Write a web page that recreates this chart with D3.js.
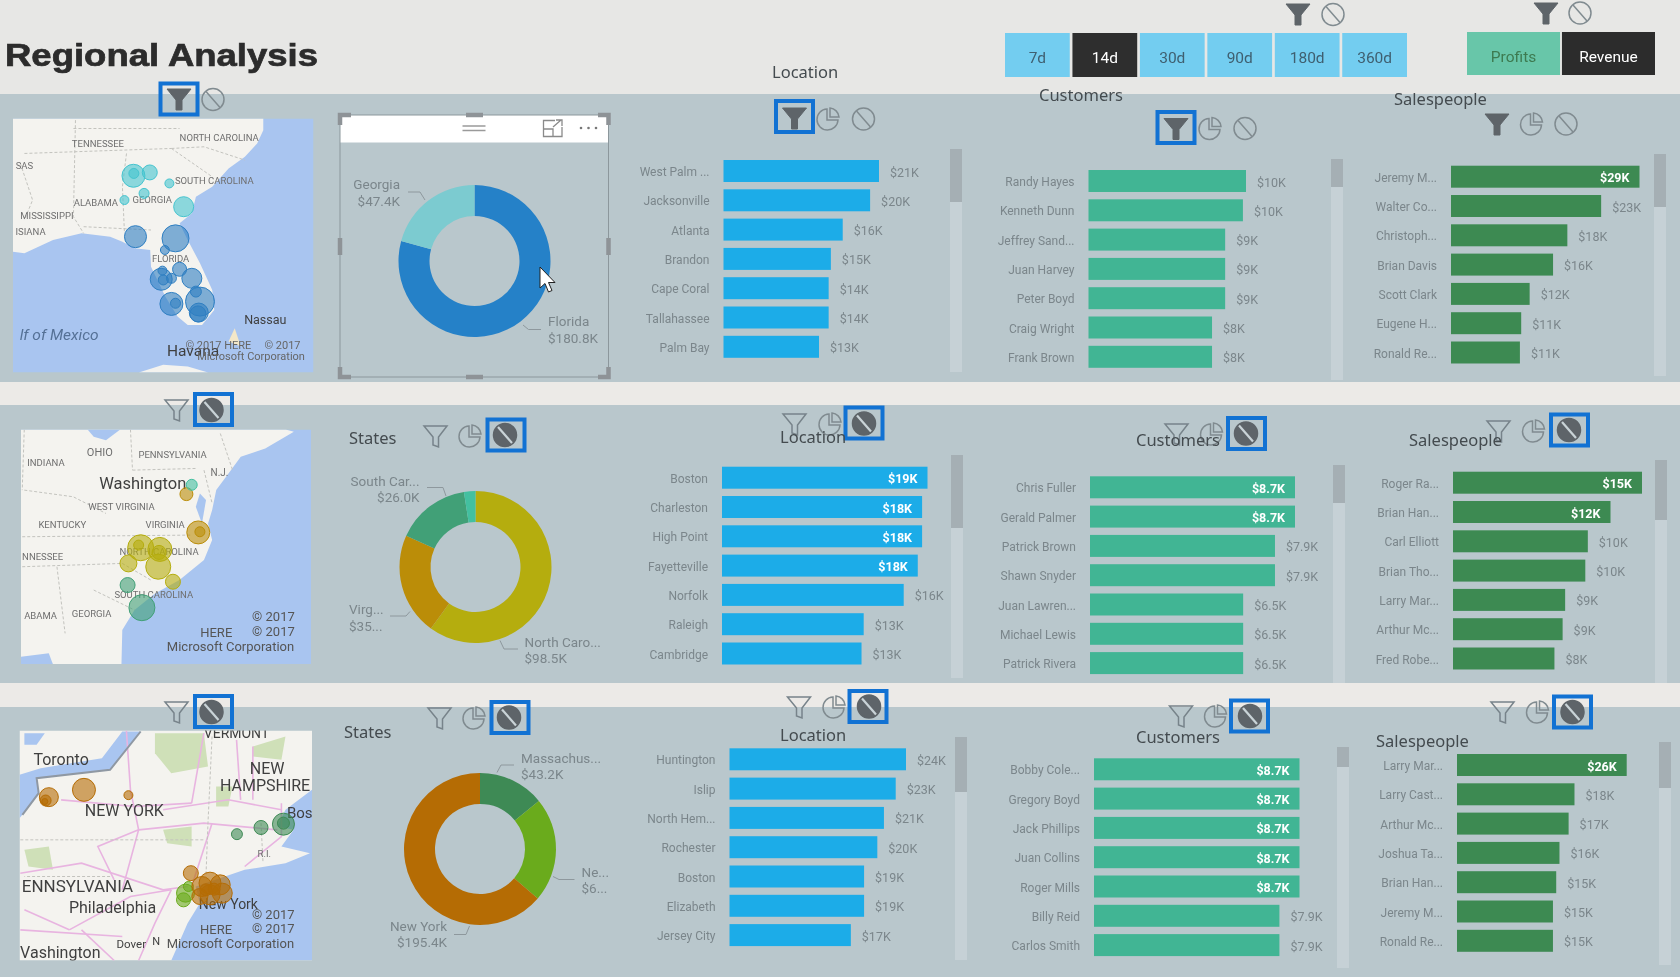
<!DOCTYPE html>
<html>
<head>
<meta charset="utf-8">
<script src="https://cdn.jsdelivr.net/npm/d3@7"></script>
<style>
html, body { margin: 0; padding: 0; background: #e7e7e5; overflow: hidden; }
svg { display: block; filter: blur(0.55px); }
text { font-family: Roboto, sans-serif; }
</style>
</head>
<body>
<div id="chart"></div>
<script>
// ---- data ----
var periods = ['7d','14d','30d','90d','180d','360d'];
var measures = ['Profits','Revenue'];

var locNames1 = ['West Palm ...','Jacksonville','Atlanta','Brandon','Cape Coral','Tallahassee','Palm Bay'];
var locVals1 = [21,19.8,16.1,14.5,14.2,14.2,12.9];
var locLabels1 = ['$21K','$20K','$16K','$15K','$14K','$14K','$13K'];
var custNames1 = ['Randy Hayes','Kenneth Dunn','Jeffrey Sand...','Juan Harvey','Peter Boyd','Craig Wright','Frank Brown'];
var custVals1 = [10.2,10,8.85,8.85,8.85,8,8];
var custLabels1 = ['$10K','$10K','$9K','$9K','$9K','$8K','$8K'];
var salesNames1 = ['Jeremy M...','Walter Co...','Christoph...','Brian Davis','Scott Clark','Eugene H...','Ronald Re...'];
var salesVals1 = [29,23.1,17.9,15.7,12.1,10.8,10.6];
var salesLabels1 = ['$29K','$23K','$18K','$16K','$12K','$11K','$11K'];

var locNames2 = ['Boston','Charleston','High Point','Fayetteville','Norfolk','Raleigh','Cambridge'];
var locVals2 = [19,18.5,18.5,18.1,16.8,13.1,12.9];
var locLabels2 = ['$19K','$18K','$18K','$18K','$16K','$13K','$13K'];
var custNames2 = ['Chris Fuller','Gerald Palmer','Patrick Brown','Shawn Snyder','Juan Lawren...','Michael Lewis','Patrick Rivera'];
var custVals2 = [8.7,8.7,7.85,7.85,6.5,6.5,6.5];
var custLabels2 = ['$8.7K','$8.7K','$7.9K','$7.9K','$6.5K','$6.5K','$6.5K'];
var salesNames2 = ['Roger Ra...','Brian Han...','Carl Elliott','Brian Tho...','Larry Mar...','Arthur Mc...','Fred Robe...'];
var salesVals2 = [15,12.5,10.7,10.5,8.9,8.7,8.05];
var salesLabels2 = ['$15K','$12K','$10K','$10K','$9K','$9K','$8K'];

var locNames3 = ['Huntington','Islip','North Hem...','Rochester','Boston','Elizabeth','Jersey City'];
var locVals3 = [24,22.6,21,20.1,18.3,18.3,16.5];
var locLabels3 = ['$24K','$23K','$21K','$20K','$19K','$19K','$17K'];
var custNames3 = ['Bobby Cole...','Gregory Boyd','Jack Phillips','Juan Collins','Roger Mills','Billy Reid','Carlos Smith'];
var custVals3 = [8.7,8.7,8.7,8.7,8.7,7.85,7.85];
var custLabels3 = ['$8.7K','$8.7K','$8.7K','$8.7K','$8.7K','$7.9K','$7.9K'];
var salesNames3 = ['Larry Mar...','Larry Cast...','Arthur Mc...','Joshua Ta...','Brian Han...','Jeremy M...','Ronald Re...'];
var salesVals3 = [26,18,17.1,15.7,15.2,14.7,14.7];
var salesLabels3 = ['$26K','$18K','$17K','$16K','$15K','$15K','$15K'];

var stateVals1 = [180.8,47.4];
var stateVals2 = [98.5,35.7,26,4];
var stateVals3 = [43.2,68,195.4];
var stateColors1 = ['#2581c8','#7ccbd0'];
var stateColors2 = ['#b5ad0e','#bb8d08','#41a077','#43c0a0'];
var stateColors3 = ['#3e8a55','#6aab1c','#b56c04'];

// map bubbles: position in map units, size in area units, index of state colour
var bubX1 = [327,328,367,415,353,305,450,332,430,404,398,440,395,420,400,470,480,490,420,430,487,485];
var bubY1 = [527,520,517,550,580,600,620,710,715,750,812,808,838,835,840,835,875,905,912,910,938,942];
var bubS1 = [132,25,56,20,25,20,100,121,182,20,20,49,121,25,25,100,30,210,132,25,90,64];
var bubC1 = [1,1,1,1,1,1,1,0,0,0,0,0,0,0,0,0,0,0,0,0,0,0];
var bubX2 = [345,392,390,340,315,388,424,486,490,457,313,348,470];
var bubY2 = [473,478,487,465,520,530,575,427,425,312,585,653,284];
var bubS2 = [169,144,49,25,72,156,56,132,25,42,56,169,30];
var bubC2 = [0,0,0,0,0,0,0,1,1,1,2,2,3];
var bubX3 = [455,450,462,120,112,110,206,315,468,495,515,540,545,515,490,525,505,695,695,640,581];
var bubY3 = [610,630,590,322,332,335,300,316,550,590,580,585,610,615,620,598,600,403,400,413,433];
var bubS3 = [81,49,25,90,30,9,132,20,56,100,121,100,100,100,64,36,36,121,36,49,30];
var bubC3 = [1,1,1,2,2,2,2,2,2,2,2,2,2,2,2,2,2,0,0,0,0];

// ---- page ----
var width = 1680, height = 977;
var panelColor = '#b9c7cc', ink = '#7b868b', iconInk = '#5e6469', blue = '#1272d3', trackColor = '#c6d1d6', thumbColor = '#a5afb4';

var svg = d3.select('#chart').append('svg').attr('width',width).attr('height',height);
svg.append('rect').attr('width',width).attr('height',height).attr('fill','#e7e7e5');

[[94,382],[405,683],[707,977]].forEach(function(p){
    svg.append('rect').attr('x',0).attr('y',p[0]).attr('width',width).attr('height',p[1]-p[0]).attr('fill',panelColor);
});
svg.append('rect').attr('x',0).attr('y',382).attr('width',width).attr('height',23).attr('fill','#eceae7');
svg.append('rect').attr('x',0).attr('y',683).attr('width',width).attr('height',24).attr('fill','#eceae7');

svg.append('text').attr('x',5).attr('y',66).text('Regional Analysis')
    .attr('textLength',313).attr('lengthAdjust','spacingAndGlyphs')
    .style('font-family','Liberation Sans').style('font-weight',700).style('font-size','32px')
    .attr('fill','#2c2c2c').attr('stroke','#2c2c2c').attr('stroke-width',0.7);

// ---- slicers ----
var periodX = d3.scaleBand().domain(periods).range([1005,1407]).paddingInner(0.04);
svg.selectAll('.period').data(periods).enter().append('rect')
    .attr('x',d=>periodX(d)).attr('y',33).attr('width',periodX.bandwidth()).attr('height',44)
    .attr('fill',d=>d=='14d' ? '#2e2e2e' : '#73cdf0');
svg.selectAll('.periodText').data(periods).enter().append('text')
    .attr('x',d=>periodX(d)+periodX.bandwidth()/2).attr('y',62.5).attr('text-anchor','middle')
    .style('font-size','15.5px').attr('fill',d=>d=='14d' ? '#fff' : '#3f5f70').text(d=>d);

var measureX = d3.scaleBand().domain(measures).range([1467,1655]).paddingInner(0.02);
svg.selectAll('.measure').data(measures).enter().append('rect')
    .attr('x',d=>measureX(d)).attr('y',32).attr('width',measureX.bandwidth()).attr('height',43)
    .attr('fill',d=>d=='Revenue' ? '#2c2c2c' : '#68c6a9');
svg.selectAll('.measureText').data(measures).enter().append('text')
    .attr('x',d=>measureX(d)+measureX.bandwidth()/2).attr('y',61.5).attr('text-anchor','middle')
    .style('font-size','15.5px').attr('fill',d=>d=='Revenue' ? '#fff' : '#3d7a50').text(d=>d);

// ---- little visual header icons ----
function funnel(x,y,filled){
    svg.append('path')
        .attr('transform',`translate(${x},${y})`)
        .attr('d', filled ? 'M-12,-10H12L3,1V11H-3V1Z' : 'M-11.5,-10H11.5L3,1V11L-2.5,9V1Z')
        .attr('fill',filled ? iconInk : 'none').attr('stroke',filled ? iconInk : '#77838a').attr('stroke-width',filled ? 1 : 1.5);
}
function pie(x,y){
    var g = svg.append('g').attr('transform',`translate(${x},${y})`).attr('fill','none').attr('stroke','#808b90').attr('stroke-width',1.5);
    g.append('path').attr('d','M-1,-10A10.5,10.5 0 1 0 10,1H-1Z');
    g.append('path').attr('d','M2,-11A10,10 0 0 1 11,-2H2Z');
}
function none(x,y,filled){
    var g = svg.append('g').attr('transform',`translate(${x},${y})`);
    g.append('circle').attr('r',filled ? 11.5 : 11)
        .attr('fill',filled ? iconInk : 'none').attr('stroke',filled ? iconInk : '#808b90').attr('stroke-width',1.5);
    g.append('line').attr('x1',-7).attr('y1',-8).attr('x2',7).attr('y2',8)
        .attr('stroke',filled ? '#c9d3d7' : '#808b90').attr('stroke-width',filled ? 2.2 : 1.5);
}
function box(x,y){
    svg.append('rect').attr('x',x-18.5).attr('y',y-15.5).attr('width',37).attr('height',31)
        .attr('fill','none').attr('stroke',blue).attr('stroke-width',4);
}
function title(x,y,t){
    svg.append('text').attr('x',x).attr('y',y).text(t)
        .style('font-family','Noto Sans').style('font-size','16.5px').attr('fill','#444b4f');
}

funnel(1298,14,true); none(1333,14.5,false);
funnel(1546,13,true); none(1580,13,false);

// row one
box(179,99); funnel(179,99,true); none(213,99.5,false);
box(794.5,116.5); funnel(794.5,118,true); pie(828,119); none(863.5,119,false);
box(1176,127.5); funnel(1176,128.5,true); pie(1210,128.5); none(1245,128.5,false);
funnel(1497,124,true); pie(1531.5,124); none(1566,124,false);
title(772,78,'Location'); title(1039,101,'Customers'); title(1394,105,'Salespeople');

// row two
funnel(176.5,410,false); none(211.5,410,true); box(213.5,409.5);
funnel(435.5,436,false); pie(470,436); none(505,435,true); box(506,435);
funnel(794.5,424,false); pie(830,424); none(864,423.5,true); box(864,423);
funnel(1176.5,434,false); pie(1211.5,434); none(1246,433.5,true); box(1246.5,433.5);
funnel(1498.5,431,false); pie(1533.5,431); none(1569,430,true); box(1569.5,430);
title(349,444,'States'); title(780,443,'Location'); title(1136,446,'Customers'); title(1409,446,'Salespeople');

// row three
funnel(176.5,712,false); none(211.5,712,true); box(213.5,711.5);
funnel(439.5,718,false); pie(474,718); none(509,717.5,true); box(510,717.5);
funnel(799,707,false); pie(834,707); none(869,706.5,true); box(868,706.5);
funnel(1181,716,false); pie(1215.5,716); none(1250,716,true); box(1249.5,716);
funnel(1502.5,712,false); pie(1537.5,712); none(1572.5,712,true); box(1572.5,712);
title(344,738,'States'); title(780,741,'Location'); title(1136,743,'Customers'); title(1376,747,'Salespeople');

// ---- bar panels ----
function barPanel(o){
    var rowStep = 29.3;
    var x = d3.scaleLinear().domain([0,d3.max(o.vals)]).range([0,o.maxW]);
    var top = o.first-rowStep/2;
    var y = d3.scaleBand().domain(o.names).range([top,top+rowStep*o.names.length]).paddingInner(0.25).paddingOuter(0.125);
    var g = svg.append('g').attr('transform',`translate(${o.x0},0)`);

    g.append('g').call(d3.axisLeft(y).tickSize(0).tickPadding(14))
        .call(a=>a.select('.domain').remove())
        .selectAll('text').attr('dy','.42em').style('font-family','Roboto').style('font-size','12px').attr('fill',ink);

    g.selectAll('.bar').data(o.vals).enter().append('rect')
        .attr('x',0).attr('y',(d,i)=>y(o.names[i]))
        .attr('width',d=>x(d)).attr('height',y.bandwidth()).attr('fill',o.color);

    g.selectAll('.val').data(o.vals).enter().append('text')
        .attr('x',(d,i)=>i<o.inside ? x(d)-10 : x(d)+11)
        .attr('y',(d,i)=>y(o.names[i])+y.bandwidth()/2+5.5)
        .attr('text-anchor',(d,i)=>i<o.inside ? 'end' : 'start')
        .style('font-size','12.5px').style('font-weight',(d,i)=>i<o.inside ? 700 : 400)
        .attr('fill',(d,i)=>i<o.inside ? '#fff' : ink)
        .text((d,i)=>o.labels[i]);

    svg.append('rect').attr('x',o.sx).attr('y',o.s0).attr('width',12).attr('height',o.s1-o.s0).attr('fill',trackColor);
    svg.append('rect').attr('x',o.sx).attr('y',o.s0).attr('width',12).attr('height',o.thumb-o.s0).attr('fill',thumbColor);
}

var locBlue = '#1cace8', custGreen = '#41b594', salesGreen = '#3d8a52';
barPanel({names:locNames1,vals:locVals1,labels:locLabels1,inside:0,color:locBlue,x0:723.5,first:171,maxW:155.5,sx:950,s0:149,s1:372,thumb:202});
barPanel({names:custNames1,vals:custVals1,labels:custLabels1,inside:0,color:custGreen,x0:1088.5,first:181,maxW:157.5,sx:1331,s0:159,s1:380,thumb:187});
barPanel({names:salesNames1,vals:salesVals1,labels:salesLabels1,inside:1,color:salesGreen,x0:1451,first:176.7,maxW:188.5,sx:1654,s0:154,s1:376,thumb:207});
barPanel({names:locNames2,vals:locVals2,labels:locLabels2,inside:4,color:locBlue,x0:722,first:477.7,maxW:205.5,sx:951,s0:455,s1:678,thumb:528});
barPanel({names:custNames2,vals:custVals2,labels:custLabels2,inside:2,color:custGreen,x0:1090,first:487.3,maxW:205,sx:1333,s0:465,s1:683,thumb:503});
barPanel({names:salesNames2,vals:salesVals2,labels:salesLabels2,inside:2,color:salesGreen,x0:1453,first:482.7,maxW:189,sx:1655,s0:460,s1:683,thumb:520});
barPanel({names:locNames3,vals:locVals3,labels:locLabels3,inside:0,color:locBlue,x0:729.5,first:759.3,maxW:176.5,sx:955,s0:737,s1:960,thumb:792});
barPanel({names:custNames3,vals:custVals3,labels:custLabels3,inside:5,color:custGreen,x0:1094,first:769.3,maxW:205.5,sx:1337,s0:747,s1:968,thumb:767});
barPanel({names:salesNames3,vals:salesVals3,labels:salesLabels3,inside:1,color:salesGreen,x0:1457,first:765,maxW:169.7,sx:1659,s0:742,s1:965,thumb:788});

// ---- donuts ----
function donut(o){
    var g = svg.append('g').attr('transform',`translate(${o.cx},${o.cy})`);
    var arc = d3.arc().innerRadius(45).outerRadius(76);
    g.selectAll('path').data(d3.pie().sort(null)(o.vals)).enter().append('path')
        .attr('d',arc).attr('fill',(d,i)=>o.colors[i]);
    o.notes.forEach(function(n){
        svg.append('text').attr('x',n.x).attr('y',n.y).attr('text-anchor',n.a).style('font-size','13.5px').attr('fill',ink).text(n.t1);
        svg.append('text').attr('x',n.x).attr('y',n.y+16.5).attr('text-anchor',n.a).style('font-size','13.5px').attr('fill',ink).text(n.t2);
        svg.append('path').attr('d',d3.line()(n.lead)).attr('fill','none').attr('stroke','#8e989d').attr('stroke-width',1);
    });
}
donut({cx:474.5,cy:261,vals:stateVals1,colors:stateColors1,notes:[
    {x:400,y:189,a:'end',t1:'Georgia',t2:'$47.4K',lead:[[408,192],[420,192],[425,200]]},
    {x:548,y:326,a:'start',t1:'Florida',t2:'$180.8K',lead:[[523,325],[528.5,329.5],[541,329.5]]}]});
donut({cx:475.5,cy:567,vals:stateVals2,colors:stateColors2,notes:[
    {x:419.5,y:485.5,a:'end',t1:'South Car...',t2:'$26.0K',lead:[[427,487.5],[443,487.5],[446,496]]},
    {x:349,y:614,a:'start',t1:'Virg...',t2:'$35...',lead:[[390,616],[406,616],[410,611.5]]},
    {x:524.5,y:646.5,a:'start',t1:'North Caro...',t2:'$98.5K',lead:[[500,640.5],[504,649],[518,649]]}]});
donut({cx:480,cy:849,vals:stateVals3,colors:stateColors3,notes:[
    {x:521,y:762.5,a:'start',t1:'Massachus...',t2:'$43.2K',lead:[[514,765],[501,765],[497,772.5]]},
    {x:581.5,y:876.5,a:'start',t1:'Ne...',t2:'$6...',lead:[[574.5,879.5],[559,879.5],[553,876.5]]},
    {x:447,y:930.5,a:'end',t1:'New York',t2:'$195.4K',lead:[[454,934.5],[466,934.5],[469.5,926]]}]});

// selected visual frame on the top donut
var frame = svg.append('g');
frame.append('rect').attr('x',340).attr('y',115).attr('width',268.5).attr('height',27.5).attr('fill','#fff');
frame.append('rect').attr('x',340).attr('y',115).attr('width',268.5).attr('height',262).attr('fill','none').attr('stroke','#8c979c');
frame.append('path').attr('d','M340,125V115H351M598,115H608.5V125M340,367V377H351M598,377H608.5V367M466,115H483M466,377H483M340,238V255M608.5,238V255')
    .attr('fill','none').attr('stroke','#8e9397').attr('stroke-width',4.5);
frame.append('path').attr('d','M462.5,126H485.5M462.5,130.5H485.5').attr('stroke','#9a9a9a').attr('stroke-width',1.5);
frame.append('path').attr('d','M555,120.5H543.5V136.5H562V127M543.5,129H553V136.5M553,127L561,120M556,120H562V126')
    .attr('fill','none').attr('stroke','#8a8a8a').attr('stroke-width',1.3);
frame.selectAll('.dot').data([0,1,2]).enter().append('circle').attr('cx',d=>581+d*7.5).attr('cy',128).attr('r',1.3).attr('fill','#777');
svg.append('path').attr('d','M540,267V288L545,283.5L548.5,292L552,290.5L548.5,282.5H555Z')
    .attr('fill','#fff').attr('stroke','#222').attr('stroke-width',1);

// ---- maps ----
function map(o){
    var mx = d3.scaleLinear().domain(o.domX).range(o.boxX);
    var my = d3.scaleLinear().domain(o.domY).range(o.boxY);
    var r = d3.scaleSqrt().domain([0,400]).range([0,20]);
    var line = d3.line().x(d=>mx(d[0])).y(d=>my(d[1]));
    var id = 'clip'+o.id;
    svg.append('clipPath').attr('id',id).append('rect')
        .attr('x',o.boxX[0]).attr('y',o.boxY[0]).attr('width',o.boxX[1]-o.boxX[0]).attr('height',o.boxY[1]-o.boxY[0]);
    var g = svg.append('g').attr('clip-path',`url(#${id})`);
    g.append('rect').attr('x',o.boxX[0]).attr('y',o.boxY[0]).attr('width',o.boxX[1]-o.boxX[0]).attr('height',o.boxY[1]-o.boxY[0]).attr('fill',o.base);
    (o.fills||[]).forEach(f=>g.append('path').attr('d',line(f.pts)+'Z').attr('fill',f.c));
    (o.roads||[]).forEach(p=>g.append('path').attr('d',line(p)).attr('fill','none').attr('stroke','#e8b4e0').attr('stroke-width',1.6));
    (o.shore||[]).forEach(p=>g.append('path').attr('d',line(p)).attr('fill','none').attr('stroke','#8f98a3').attr('stroke-width',2));
    (o.borders||[]).forEach(p=>g.append('path').attr('d',line(p)).attr('fill','none').attr('stroke','#c3c3be').attr('stroke-width',1).attr('stroke-dasharray','3,2'));
    o.texts.forEach(function(t){
        g.append('text').attr('x',mx(t[1])).attr('y',my(t[2])+t[3]*0.36).attr('text-anchor','middle')
            .style('font-size',t[3]+'px').style('font-style',t[5]||'normal')
            .attr('fill',t[4]).text(t[0]);
    });
    g.selectAll('circle').data(o.bx).enter().append('circle')
        .attr('cx',d=>mx(d)).attr('cy',(d,i)=>my(o.by[i])).attr('r',(d,i)=>r(o.bs[i]))
        .attr('fill',(d,i)=>o.colors[o.bc[i]]).attr('fill-opacity',0.6)
        .attr('stroke',(d,i)=>o.colors[o.bc[i]]).attr('stroke-width',1);
}
var stateInk = '#6f6f6f', placeInk = '#3f3f3f', water = '#a9c5f0', land = '#f4f3ef';

map({id:1,domX:[32,768],domY:[355,1118],boxX:[13,313.5],boxY:[118.5,372.5],base:water,
    fills:[{c:land,pts:[[32,355],[645,355],[645,390],[630,430],[600,470],[560,505],[520,560],[480,590],[470,640],[440,670],[460,720],[490,790],[520,870],[525,930],[495,975],[460,975],[435,950],[405,890],[370,800],[368,750],[330,745],[300,725],[270,710],[200,700],[130,720],[60,760],[32,755]]},
           {c:land,pts:[[340,1118],[400,1095],[460,1100],[510,1118]]},
           {c:'#f3e7c8',pts:[[560,1025],[575,985],[590,1040]]}],
    borders:[[[185,360],[180,650],[205,700]],[[310,460],[300,560],[305,700]],[[60,460],[420,445]],[[180,385],[440,385]],[[205,680],[370,690]],[[420,445],[520,530]],[[420,445],[500,440],[600,480]],[[50,490],[80,600],[60,660]]],
    texts:[['TENNESSEE',240,430,9.5,stateInk],['NORTH CAROLINA',537,413,9.5,stateInk],['SAS',60,495,9.5,stateInk],['SOUTH CAROLINA',525,542,9.5,stateInk],
        ['ALABAMA',235,607,9.5,stateInk],['GEORGIA',373,598,9.5,stateInk],['MISSISSIPPI',115,648,9.5,stateInk],['ISIANA',75,695,9.5,stateInk],['FLORIDA',418,775,9.5,stateInk],
        ['lf of Mexico',145,1003,15.5,'#557196','italic'],['Nassau',650,958,12.5,placeInk],['Havana',473,1053,15.5,placeInk],
        ['© 2017 HERE',535,1035,11,'#666'],['© 2017',692,1035,11,'#666'],['Microsoft Corporation',615,1068,11,'#666']],
    bx:bubX1,by:bubY1,bs:bubS1,bc:bubC1,colors:['#2f7fc2','#45c4cf']});

map({id:2,domX:[52,762],domY:[118,822],boxX:[21,311],boxY:[429.5,664],base:water,
    fills:[{c:land,pts:[[52,118],[700,118],[720,125],[650,175],[590,200],[560,250],[530,300],[520,360],[510,400],[520,450],[500,510],[440,570],[380,610],[330,660],[300,720],[298,822],[52,822]]},
           {c:water,pts:[[215,118],[295,118],[260,150],[230,140]]},
           {c:water,pts:[[52,800],[120,790],[130,822],[52,822]]},
           {c:water,pts:[[490,310],[505,330],[495,400],[480,350]]}],
    borders:[[[320,118],[325,240]],[[325,240],[480,235]],[[60,118],[55,300]],[[60,300],[180,320],[260,370]],[[55,440],[470,435]],[[55,530],[300,520],[370,570]],[[140,530],[160,730]],[[230,600],[330,660]],[[500,240],[520,340]],[[540,130],[570,240]]],
    texts:[['OHIO',245,185,11,stateInk],['PENNSYLVANIA',423,193,9.5,stateInk],['INDIANA',113,218,9.5,stateInk],['N.J.',538,248,10,stateInk],['Washington',350,278,16.5,placeInk],
        ['WEST VIRGINIA',298,348,9.5,stateInk],['KENTUCKY',153,404,9.5,stateInk],['VIRGINIA',405,404,9.5,stateInk],['NORTH CAROLINA',390,485,9.5,stateInk],['NNESSEE',105,500,9.5,stateInk],
        ['SOUTH CAROLINA',377,613,9.5,stateInk],['ABAMA',100,678,9.5,stateInk],['GEORGIA',225,670,9.5,stateInk],
        ['© 2017',670,680,13,'#555'],['HERE',530,727,13,'#555'],['© 2017',670,725,13,'#555'],['Microsoft Corporation',565,770,13,'#555']],
    bx:bubX2,by:bubY2,bs:bubS2,bc:bubC2,colors:stateColors2});

map({id:3,domX:[48,765],domY:[122,812],boxX:[19.5,312],boxY:[730.5,960.5],base:'#f4f3ef',
    fills:[{c:'#cfe0b8',pts:[[380,130],[500,130],[510,230],[420,250],[380,190]]},
           {c:'#cfe0b8',pts:[[620,170],[700,140],[690,210],[620,200]]},
           {c:'#cfe0b8',pts:[[60,480],[120,470],[130,540],[70,530]]},
           {c:'#cfe0b8',pts:[[400,420],[470,410],[470,470],[410,460]]},
           {c:'#cfe0b8',pts:[[530,290],[570,290],[560,350],[530,350]]},
           {c:water,pts:[[345,125],[270,240],[90,265],[95,310],[55,375],[48,385],[48,255],[100,235],[250,205],[300,125]]},
           {c:water,pts:[[60,130],[110,130],[90,165],[60,165]]},
           {c:water,pts:[[765,300],[700,360],[680,410],[720,420],[690,470],[760,490],[700,520],[600,540],[480,590],[490,640],[460,700],[420,812],[765,812]]}],
    roads:[[[310,122],[320,300],[340,420],[300,600]],[[50,550],[200,520],[400,600],[460,590]],[[400,360],[560,330],[690,360]],[[340,420],[500,400],[680,420]],[[620,170],[620,330]],[[520,400],[470,590]],[[690,340],[690,440],[600,530]],[[170,720],[320,620],[420,600]],[[50,720],[300,740]],
           [[150,330],[330,350],[470,340]],[[470,340],[500,130]],[[580,150],[590,330]],[[340,420],[240,470],[280,570]],[[420,600],[380,700],[340,812]],[[200,720],[280,812]],[[60,660],[170,720]]],
    shore:[[[345,125],[270,240],[90,265],[95,310],[55,375]]],
    borders:[[[50,450],[500,450]],[[520,140],[510,400],[505,560]],[[640,400],[645,520]],[[270,560],[60,560]]],
    texts:[['VERMONT',580,128,14,placeInk],['Toronto',150,207,16,placeInk],['NEW',655,235,16,placeInk],['HAMPSHIRE',650,285,16,placeInk],['NEW YORK',305,362,16,placeInk],
        ['Bos',735,367,15,placeInk],['ENNSYLVANIA',190,588,17,placeInk],['Philadelphia',276,653,16,placeInk],['R.I.',648,490,9.5,stateInk],
        ['New York',560,643,14,placeInk],['Vashington',148,788,16,placeInk],['Dover',322,762,11.5,placeInk],['N',383,755,11,placeInk],
        ['© 2017',670,672,13,'#555'],['HERE',530,717,13,'#555'],['© 2017',670,714,13,'#555'],['Microsoft Corporation',565,760,13,'#555']],
    bx:bubX3,by:bubY3,bs:bubS3,bc:bubC3,colors:stateColors3});
</script>
</body>
</html>
